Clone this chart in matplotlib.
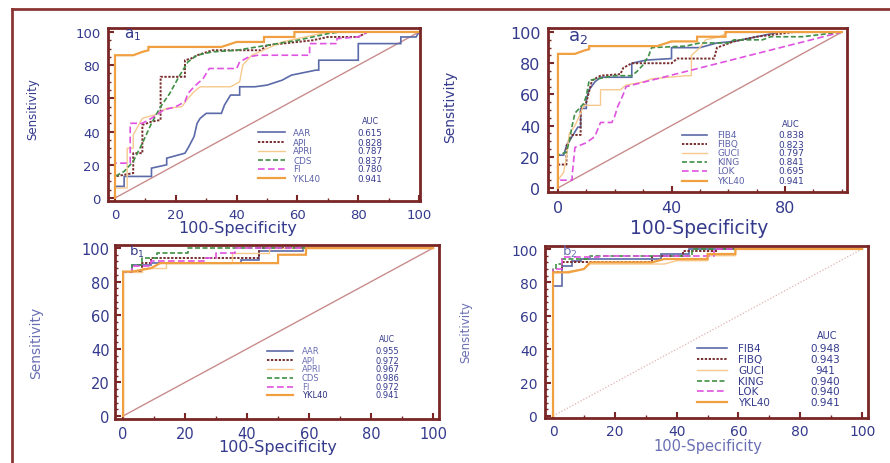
import matplotlib
matplotlib.use("Agg")
import matplotlib.pyplot as plt
from matplotlib.lines import Line2D
from matplotlib.ticker import MultipleLocator

W, H = 890, 464

# ---------------- data (x = 100-Specificity, y = Sensitivity) ----------------
# Panel a1
a1_names = ["AAR", "API", "APRI", "CDS", "FI", "YKL40"]
a1_auc = ["0.615", "0.828", "0.787", "0.837", "0.780", "0.941"]
a1_aar_x = [0, 0, 3, 3, 12, 12, 17, 17, 23, 24, 26, 27, 28, 30, 35, 36, 38, 41, 41, 46, 50, 55, 58, 66, 67, 67, 80, 80, 94, 94, 99, 100]
a1_aar_y = [0, 7, 7, 13, 13, 18, 20, 24, 27, 30, 37, 45, 48, 51, 51, 56, 62, 62, 67, 67, 68, 71, 74, 77, 77, 83, 83, 93, 93, 97, 97, 100]
a1_api_x = [0, 0, 6, 6, 9, 9, 12, 15, 15, 23, 23, 25, 27, 32, 48, 50, 60, 65, 70, 80, 83, 100]
a1_api_y = [0, 13, 15, 27, 27, 44, 46, 47, 73, 73, 83, 84, 86, 89, 89, 92, 94, 95, 97, 97, 100, 100]
a1_apri_x = [0, 0, 4, 4, 6, 6, 9, 13, 17, 22, 24, 26, 28, 38, 41, 42, 45, 50, 55, 60, 70, 100]
a1_apri_y = [0, 6, 6, 30, 30, 38, 48, 50, 54, 55, 60, 64, 67, 67, 70, 80, 86, 90, 94, 96, 100, 100]
a1_cds_x = [0, 0, 3, 6, 9, 12, 15, 18, 21, 24, 27, 32, 40, 50, 60, 70, 74, 100]
a1_cds_y = [0, 13, 16, 22, 33, 45, 55, 63, 73, 82, 86, 88, 89, 92, 95, 99, 100, 100]
a1_fi_x = [0, 0, 5, 5, 9, 12, 16, 20, 23, 24, 26, 29, 31, 40, 41, 44, 47, 64, 64, 73, 73, 80, 83, 100]
a1_fi_y = [0, 21, 21, 45, 45, 48, 53, 55, 58, 63, 67, 72, 78, 78, 82, 85, 86, 86, 93, 93, 96, 97, 100, 100]
ykl40_a_x = [0, 0, 6, 9, 11, 11, 35, 40, 49, 49, 59, 59, 100]
ykl40_a_y = [0, 86, 86, 88, 89, 91, 91, 94, 94, 97, 97, 100, 100]

# Panel a2
a2_names = ["FIB4", "FIBQ", "GUCI", "KING", "LOK", "YKL40"]
a2_auc = ["0.838", "0.823", "0.797", "0.841", "0.695", "0.941"]
a2_fib4_x = [0, 0, 2, 3, 5, 7, 8, 8, 10, 10, 11, 13, 15, 26, 26, 31, 40, 40, 50, 56, 62, 70, 78, 100]
a2_fib4_y = [0, 21, 21, 27, 33, 39, 39, 51, 51, 57, 63, 68, 71, 71, 80, 82, 83, 90, 90, 93, 94, 97, 100, 100]
a2_fibq_x = [0, 0, 3, 3, 5, 8, 8, 10, 12, 15, 22, 23, 26, 33, 40, 42, 55, 56, 62, 70, 83, 100]
a2_fibq_y = [0, 15, 15, 27, 34, 34, 50, 55, 69, 72, 73, 77, 80, 80, 80, 83, 83, 90, 94, 97, 100, 100]
a2_guci_x = [0, 0, 2, 3, 4, 6, 8, 9, 15, 15, 22, 24, 30, 33, 45, 47, 47, 50, 52, 57, 60, 100]
a2_guci_y = [0, 5, 10, 20, 35, 40, 48, 53, 53, 63, 63, 66, 68, 70, 72, 72, 85, 90, 95, 97, 100, 100]
a2_king_x = [0, 0, 3, 4, 5, 6, 9, 10, 11, 20, 26, 28, 30, 32, 33, 45, 50, 60, 62, 72, 75, 86, 100]
a2_king_y = [0, 21, 23, 30, 40, 48, 54, 59, 69, 72, 72, 75, 79, 85, 90, 91, 93, 93, 95, 95, 97, 97, 100]
a2_lok_x = [0, 0, 5, 5, 6, 10, 13, 15, 19, 20, 21, 23, 24, 100]
a2_lok_y = [0, 5, 5, 8, 26, 29, 33, 42, 42, 46, 52, 60, 65, 100]

# Panel b1
b1_names = ["AAR", "API", "APRI", "CDS", "FI", "YKL40"]
b1_auc = ["0.955", "0.972", "0.967", "0.986", "0.972", "0.941"]
b1_aar_x = [0, 0, 3, 3, 9, 9, 38, 38, 44, 44, 58, 58, 100]
b1_aar_y = [0, 86, 86, 90, 90, 91, 91, 93, 93, 98, 98, 100, 100]
b1_api_x = [0, 0, 6, 6, 9, 9, 44, 44, 100]
b1_api_y = [0, 86, 86, 91, 91, 94, 94, 100, 100]
b1_apri_x = [0, 0, 6, 6, 14, 14, 35, 35, 47, 47, 100]
b1_apri_y = [0, 86, 86, 88, 88, 91, 91, 97, 97, 100, 100]
b1_cds_x = [0, 0, 3, 3, 6, 6, 11, 11, 21, 21, 100]
b1_cds_y = [0, 86, 86, 90, 90, 94, 94, 97, 97, 100, 100]
b1_fi_x = [0, 0, 3, 3, 9, 9, 26, 26, 30, 30, 36, 36, 100]
b1_fi_y = [0, 86, 86, 89, 89, 92, 92, 94, 94, 97, 97, 100, 100]
b1_ykl40_x = [0, 0, 3, 9, 12, 50, 50, 59, 59, 100]
b1_ykl40_y = [0, 86, 86, 88, 91, 91, 96, 96, 100, 100]

# Panel b2
b2_names = ["FIB4", "FIBQ", "GUCI", "KING", "LOK", "YKL40"]
b2_auc = ["0.948", "0.943", "941", "0.940", "0.940", "0.941"]
b2_fib4_x = [0, 0, 3, 3, 6, 6, 9, 9, 35, 35, 44, 44, 100]
b2_fib4_y = [0, 78, 78, 90, 90, 93, 93, 94, 94, 97, 97, 100, 100]
b2_fibq_x = [0, 0, 3, 3, 32, 32, 42, 42, 53, 53, 100]
b2_fibq_y = [0, 86, 86, 92, 92, 96, 96, 99, 99, 100, 100]
b2_guci_x = [0, 0, 3, 10, 12, 36, 40, 50, 50, 59, 59, 100]
b2_guci_y = [0, 86, 86, 88, 91, 91, 93, 93, 96, 96, 100, 100]
b2_king_x = [0, 0, 1, 1, 3, 3, 12, 12, 45, 45, 100]
b2_king_y = [0, 88, 88, 91, 91, 94, 94, 96, 96, 100, 100]
b2_lok_x = [0, 0, 3, 3, 15, 15, 52, 52, 100]
b2_lok_y = [0, 88, 88, 95, 95, 96, 96, 100, 100]
b2_ykl40_x = [0, 0, 5, 10, 12, 32, 36, 50, 50, 59, 59, 100]
b2_ykl40_y = [0, 86, 86, 88, 92, 92, 94, 94, 97, 97, 100, 100]

# ---------------- styles ----------------
BLUE_TXT = "#343a8c"
LIGHT_TXT = "#6a6fb4"
SPINE = "#7a2626"
STYLES = [
    dict(color="#5b6aa8", lw=1.2, ls="-"),                 # AAR / FIB4
    dict(color="#7a2e2e", lw=1.4, ls=(0, (1.2, 0.8))),     # API / FIBQ
    dict(color="#f6c98f", lw=1.0, ls="-"),                 # APRI / GUCI
    dict(color="#3f9046", lw=1.2, ls=(0, (3, 1.5))),       # CDS / KING
    dict(color="#e052e0", lw=1.2, ls=(0, (4, 2))),         # FI / LOK
    dict(color="#f0a040", lw=1.6, ls="-"),                 # YKL40
]

fig = plt.figure(figsize=(W / 100, H / 100), dpi=100)
fig.patch.set_facecolor("white")


def fx(px):
    return px / W


def fy(py):
    return 1 - py / H


def make_axes(l, t, r, b):
    return fig.add_axes([fx(l), fy(b), fx(r) - fx(l), fy(t) - fy(b)])


def style_axes(ax, xlim, ylim, xmaj, xmin, ymaj, ymin, tsize, padx, pady):
    ax.set_xlim(*xlim)
    ax.set_ylim(*ylim)
    for s in ax.spines.values():
        s.set_color(SPINE)
        s.set_linewidth(2.0)
    ax.xaxis.set_major_locator(MultipleLocator(xmaj))
    ax.xaxis.set_minor_locator(MultipleLocator(xmin))
    ax.yaxis.set_major_locator(MultipleLocator(ymaj))
    ax.yaxis.set_minor_locator(MultipleLocator(ymin))
    ax.tick_params(which="both", direction="in", color=SPINE, top=False, right=False)
    ax.tick_params(which="major", length=4, width=1.5)
    ax.tick_params(which="minor", length=2.5, width=1.0)
    ax.tick_params(axis="x", which="major", labelsize=tsize, labelcolor=BLUE_TXT, pad=padx)
    ax.tick_params(axis="y", which="major", labelsize=tsize, labelcolor=BLUE_TXT, pad=pady)


def labels(ax, xl, yl, xsize, ysize, xcol, ycol):
    ax.set_xlabel("100-Specificity", fontsize=xsize, color=xcol, va="center")
    ax.xaxis.set_label_coords(fx(xl[0]), fy(xl[1]), transform=fig.transFigure)
    ax.set_ylabel("Sensitivity", fontsize=ysize, color=ycol, va="center")
    ax.yaxis.set_label_coords(fx(yl[0]), fy(yl[1]), transform=fig.transFigure)


def legend(names, aucs, hx0, hx1, nx, vx, ys, aucpos, size, namecols):
    fig.text(fx(aucpos[0]), fy(aucpos[1]), "AUC", fontsize=size - 0.5, color=BLUE_TXT,
             ha="center", va="center")
    for i, (n, v) in enumerate(zip(names, aucs)):
        st = STYLES[i]
        fig.add_artist(Line2D([fx(hx0), fx(hx1)], [fy(ys[i]), fy(ys[i])], transform=fig.transFigure,
                              color=st["color"], lw=st["lw"], ls=st["ls"]))
        fig.text(fx(nx), fy(ys[i]), n, fontsize=size, color=namecols[i], ha="left", va="center")
        fig.text(fx(vx), fy(ys[i]), v, fontsize=size, color=BLUE_TXT, ha="center", va="center")


def curves(ax, xs, ys, diag_style):
    ax.plot([0, 100], [0, 100], **diag_style)
    for i, (x, y) in enumerate(zip(xs, ys)):
        st = STYLES[i]
        ax.plot(x, y, color=st["color"], lw=st["lw"], ls=st["ls"], solid_joinstyle="miter")


diag_solid = dict(color="#c98c8c", lw=1.0, ls="-")
diag_dot = dict(color="#e2b3b3", lw=0.9, ls=(0, (1, 1.5)))

# ---------------- panel a1 ----------------
ax = make_axes(108, 29, 420, 202)
curves(ax, [a1_aar_x, a1_api_x, a1_apri_x, a1_cds_x, a1_fi_x, ykl40_a_x],
       [a1_aar_y, a1_api_y, a1_apri_y, a1_cds_y, a1_fi_y, ykl40_a_y], diag_solid)
style_axes(ax, (-2.3, 100.3), (-1.8, 102.4), 20, 10, 20, 5, 9.5, 5, 5.5)
labels(ax, (238, 229), (33, 109), 11.5, 8.5, BLUE_TXT, BLUE_TXT)
fig.text(fx(124), fy(35), r"$\mathregular{a_1}$", fontsize=11, color=BLUE_TXT, ha="left", va="center")
legend(a1_names, a1_auc, 258, 285, 293, 370, [133, 143, 152, 161, 170, 179], (370, 121), 6.3,
       ["#5c62a8"] * 6)

# ---------------- panel a2 ----------------
ax = make_axes(548, 29, 847, 193)
curves(ax, [a2_fib4_x, a2_fibq_x, a2_guci_x, a2_king_x, a2_lok_x, ykl40_a_x],
       [a2_fib4_y, a2_fibq_y, a2_guci_y, a2_king_y, a2_lok_y, ykl40_a_y], diag_solid)
style_axes(ax, (-3.5, 101.8), (-2.6, 102.6), 40, 10, 20, 5, 11.5, 6, 5.5)
labels(ax, (699, 229), (450, 107), 13.5, 10, BLUE_TXT, BLUE_TXT)
fig.text(fx(568), fy(37), r"$\mathregular{a_2}$", fontsize=13, color=BLUE_TXT, ha="left", va="center")
legend(a2_names, a2_auc, 682, 707, 717, 791, [136, 145, 154, 163, 172, 182], (791, 125), 6.5,
       ["#5c62a8"] * 6)

# ---------------- panel b1 ----------------
ax = make_axes(115, 246, 439, 420)
curves(ax, [b1_aar_x, b1_api_x, b1_apri_x, b1_cds_x, b1_fi_x, b1_ykl40_x],
       [b1_aar_y, b1_api_y, b1_apri_y, b1_cds_y, b1_fi_y, b1_ykl40_y], diag_solid)
style_axes(ax, (-2.6, 101.9), (-1.8, 101.8), 20, 10, 20, 4, 10.5, 5, 4)
labels(ax, (278, 448), (36, 343), 11.5, 10, BLUE_TXT, LIGHT_TXT)
fig.text(fx(129), fy(252), r"$\mathregular{b_1}$", fontsize=9.5, color=BLUE_TXT, ha="left", va="center")
legend(b1_names, b1_auc, 267, 293, 302, 387, [352, 361, 370, 379, 387.5, 396], (387, 339), 6.0,
       [LIGHT_TXT] * 5 + ["#2c3080"])

# ---------------- panel b2 ----------------
ax = make_axes(545, 247, 868, 419)
curves(ax, [b2_fib4_x, b2_fibq_x, b2_guci_x, b2_king_x, b2_lok_x, b2_ykl40_x],
       [b2_fib4_y, b2_fibq_y, b2_guci_y, b2_king_y, b2_lok_y, b2_ykl40_y], diag_dot)
style_axes(ax, (-2.6, 101.9), (-1.2, 101.8), 20, 10, 20, 4, 10, 4.5, 5.5)
labels(ax, (708, 447), (466, 332), 10.5, 8.5, LIGHT_TXT, LIGHT_TXT)
fig.text(fx(562), fy(252), r"$\mathregular{b_2}$", fontsize=9.5, color=LIGHT_TXT, ha="left", va="center")
legend(b2_names, b2_auc, 697, 727, 738, 825, [349, 360, 371, 382, 392, 403], (827, 336), 7.5,
       [BLUE_TXT] * 6)

# ---------------- outer frame ----------------
fig.add_artist(Line2D([fx(12), fx(W + 5)], [fy(10), fy(10)], transform=fig.transFigure,
                      color="#8b3535", lw=2.0))
fig.add_artist(Line2D([fx(12), fx(12)], [fy(10), fy(H + 5)], transform=fig.transFigure,
                      color="#8b3535", lw=2.0))

fig.savefig("out.png", dpi=100)
